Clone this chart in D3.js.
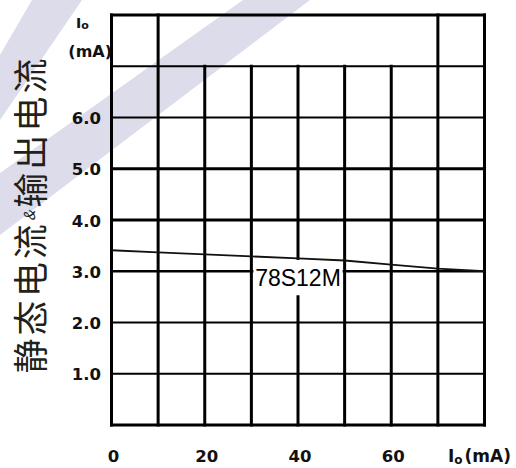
<!DOCTYPE html>
<html>
<head>
<meta charset="utf-8">
<script src="https://cdn.jsdelivr.net/npm/d3@7"></script>
<style>
  html, body { margin: 0; padding: 0; background: #fff; }
  svg { display: block; }
</style>
</head>
<body>
<div id="chart"></div>
<script>
// chart values
const xGrid = [0, 10, 20, 30, 40, 50, 60, 70, 80];
const xFull = [0, 10, 70, 80];          // verticals that run up to the top row
const yGrid = [0, 1, 2, 3, 4, 5, 6, 7, 8];
const xTicks = [0, 20, 40, 60];
const yTicks = ["1.0", "2.0", "3.0", "4.0", "5.0", "6.0"];
const curveIo = [0, 10, 20, 30, 40, 50, 60, 70, 80];
const curveIq = [3.41, 3.37, 3.33, 3.29, 3.25, 3.21, 3.13, 3.05, 3.00];
const curveName = "78S12M";
const titleParts = ["静态电流", "&", "输出电流"];

const W = 516, H = 468;
const svg = d3.select("#chart").append("svg")
  .attr("width", W)
  .attr("height", H);

let x = d3.scaleLinear().domain([0, 80]).range([111.5, 484.5]);
let y = d3.scaleLinear().domain([0, 8]).range([425, 15]);

// faint watermark bands
const wm = "#dcdcea";
[
  [[243, 0], [310, 0], [0, 235], [0, 173]],
  [[32, 0], [82, 0], [0, 120], [0, 55]]
].forEach(p =>
  svg.append("polygon")
    .attr("points", p.map(d => d.join(",")).join(" "))
    .attr("fill", wm)
);

// horizontal grid lines
const heavy = [0, 4, 5, 8];
yGrid.forEach(v => {
  let sw = heavy.includes(v) ? 3 : (v === 3 ? 2.5 : 2);
  svg.append("line")
    .attr("x1", x(0) - 1.5)
    .attr("x2", x(80) + 1.5)
    .attr("y1", y(v))
    .attr("y2", y(v))
    .attr("stroke", "#000")
    .attr("stroke-width", sw);
});

// vertical grid lines
xGrid.forEach(v => {
  let top = xFull.includes(v) ? y(8) : y(7);
  svg.append("line")
    .attr("x1", x(v))
    .attr("x2", x(v))
    .attr("y1", top - 1.5)
    .attr("y2", y(0) + 1.5)
    .attr("stroke", "#000")
    .attr("stroke-width", 3);
});

// white box behind the curve name
let xMid = x(40);
svg.append("rect")
  .attr("x", x(30) + 2)
  .attr("y", y(curveIq[4]) + 1.5)
  .attr("width", x(50) - x(30) - 4)
  .attr("height", y(3) + 24 - y(curveIq[4]) - 1.5)
  .attr("fill", "#fff");

svg.append("text")
  .attr("x", xMid)
  .attr("y", y(3) + 15)
  .attr("text-anchor", "middle")
  .attr("font-family", "Liberation Sans, Arial, sans-serif")
  .attr("font-size", 23)
  .attr("fill", "#000")
  .text(curveName);

// the curve
let line = d3.line()
  .x(d => x(d[0]))
  .y(d => y(d[1]));
svg.append("path")
  .datum(curveIo.map((v, i) => [v, curveIq[i]]))
  .attr("d", line)
  .attr("fill", "none")
  .attr("stroke", "#111")
  .attr("stroke-width", 1.8);

// tick labels
const tickFont = "DejaVu Sans, sans-serif";
yTicks.forEach(t =>
  svg.append("text")
    .attr("x", 101)
    .attr("y", y(+t) + 1)
    .attr("text-anchor", "end")
    .attr("dominant-baseline", "central")
    .attr("font-family", tickFont)
    .attr("font-weight", "bold")
    .attr("font-size", 16.5)
    .attr("fill", "#111")
    .text(t)
);

xTicks.forEach(t =>
  svg.append("text")
    .attr("x", x(t) + 2)
    .attr("y", 462)
    .attr("text-anchor", "middle")
    .attr("font-family", tickFont)
    .attr("font-weight", "bold")
    .attr("font-size", 16.5)
    .attr("fill", "#111")
    .text(t)
);

// axis unit labels
let yUnit = svg.append("text")
  .attr("x", 76)
  .attr("y", 28)
  .attr("font-family", tickFont)
  .attr("font-weight", "bold")
  .attr("fill", "#111");
yUnit.append("tspan").attr("font-size", 14).text("I");
yUnit.append("tspan").attr("font-size", 11).attr("dy", 1).text("o");

svg.append("text")
  .attr("x", 112)
  .attr("y", 57)
  .attr("text-anchor", "end")
  .attr("font-family", tickFont)
  .attr("font-weight", "bold")
  .attr("font-size", 16)
  .attr("fill", "#111")
  .text("(mA)");

let xUnit = svg.append("text")
  .attr("x", 448)
  .attr("y", 462)
  .attr("font-family", tickFont)
  .attr("font-weight", "bold")
  .attr("fill", "#111");
xUnit.append("tspan").attr("font-size", 17).text("I");
xUnit.append("tspan").attr("font-size", 12).attr("dy", 2).text("o");
xUnit.append("tspan").attr("font-size", 17).attr("dy", -2).attr("dx", 2).text("(mA)");

// rotated title
let title = svg.append("text")
  .attr("transform", "translate(28,216) rotate(-90)")
  .attr("text-anchor", "middle")
  .attr("dominant-baseline", "central")
  .attr("font-family", "Noto Sans CJK SC, sans-serif")
  .attr("fill", "#231f1a")
  .attr("textLength", 315)
  .attr("lengthAdjust", "spacing");
title.append("tspan").attr("font-size", 35).text(titleParts[0]);
title.append("tspan").attr("font-size", 15).attr("font-style", "italic").text(titleParts[1]);
title.append("tspan").attr("font-size", 35).text(titleParts[2]);
</script>
</body>
</html>
